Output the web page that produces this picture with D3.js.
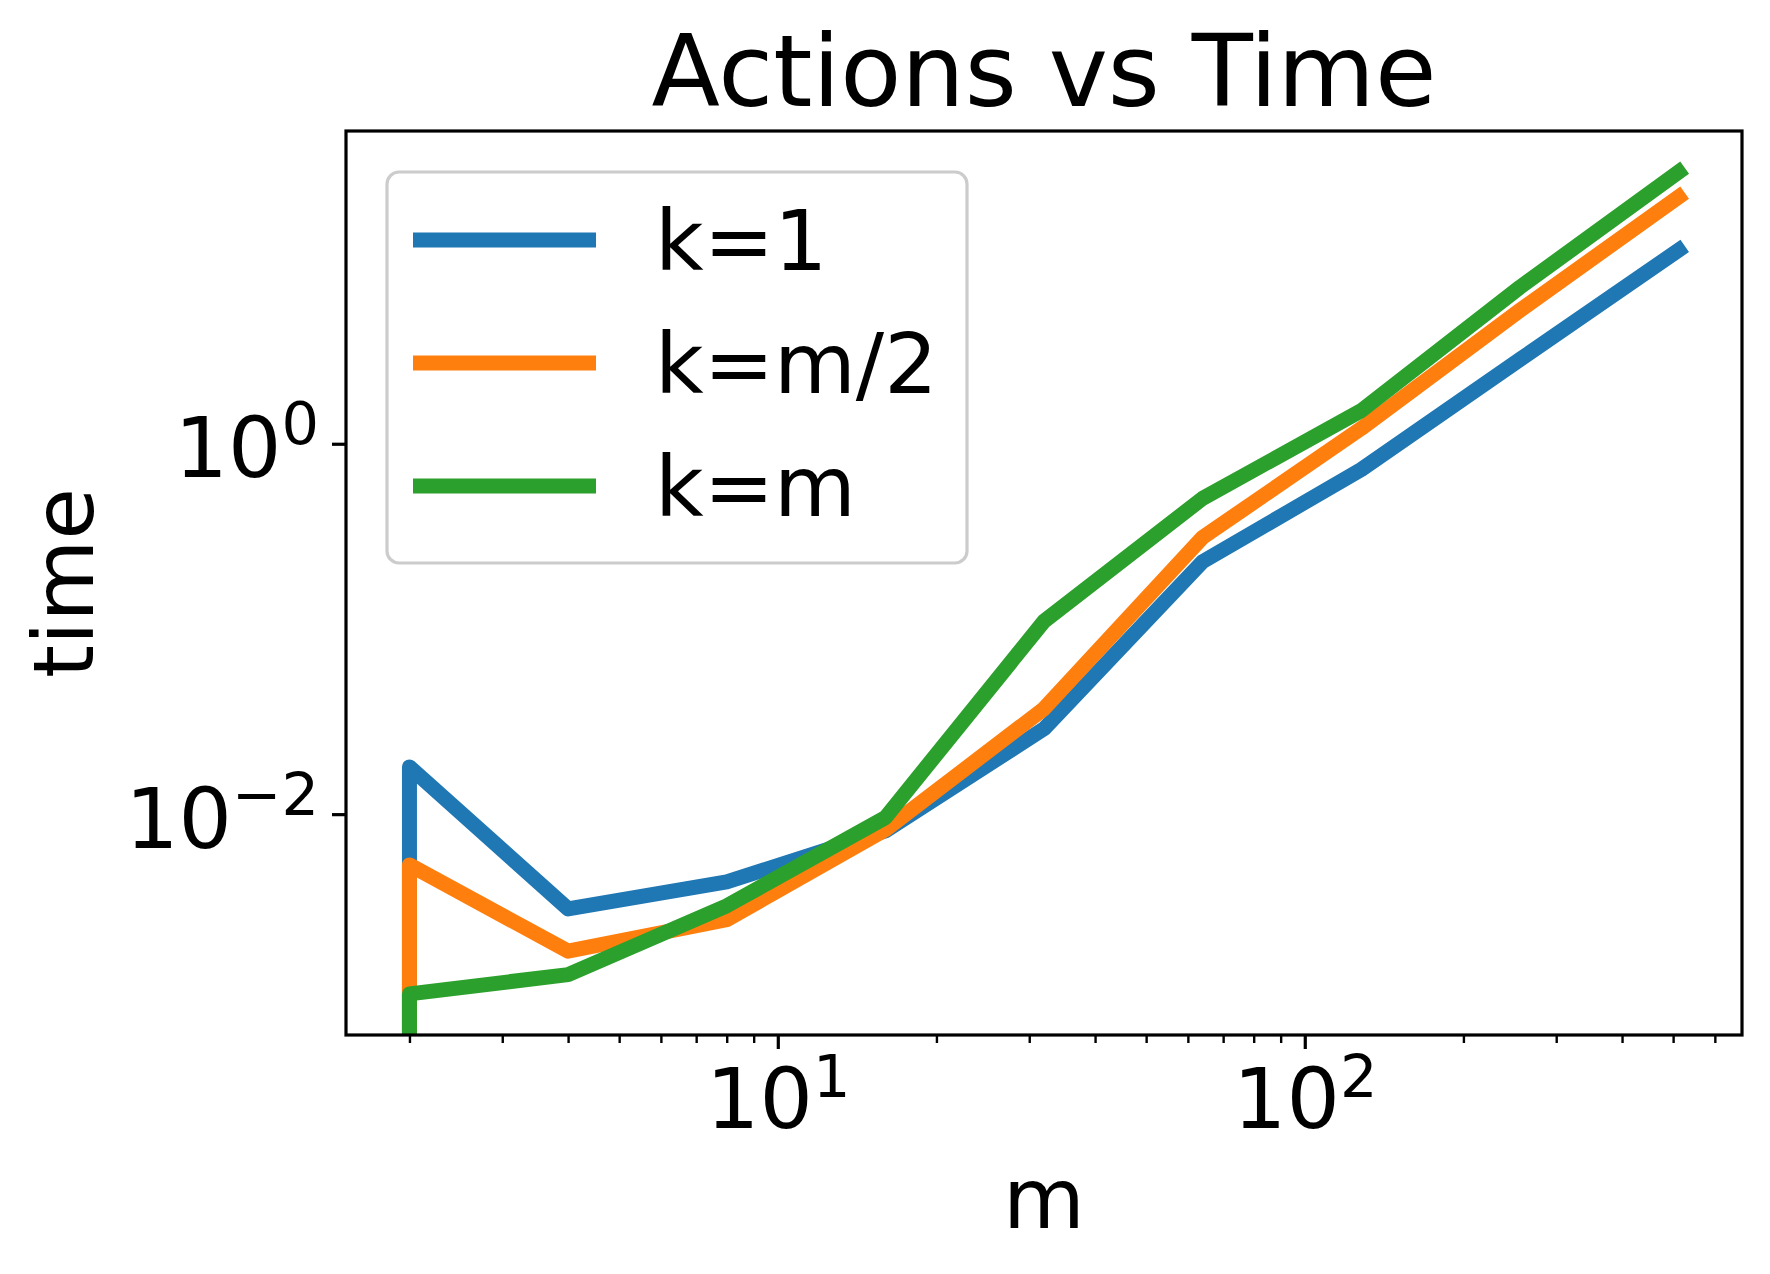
<!DOCTYPE html>
<html>
<head>
<meta charset="utf-8">
<script src="https://cdn.jsdelivr.net/npm/d3@7"></script>
<style>
    html, body { margin: 0; padding: 0; background: #ffffff; }
    svg { display: block; }
</style>
</head>
<body>
<script>
// data (first point of each run is a zero time, clipped below the axes)
const mValues = [2, 2, 4, 8, 16, 32, 64, 128, 256, 512];
const timeK1 = [0, 0.0180, 0.00308, 0.00431, 0.00812, 0.0289, 0.231, 0.726, 2.85, 11.1];
const timeKHalf = [0, 0.00532, 0.00182, 0.00269, 0.00824, 0.0371, 0.312, 1.21, 5.25, 21.5];
const timeKm = [0, 0.00107, 0.00136, 0.0032, 0.00958, 0.110, 0.507, 1.51, 7.0, 29.3];

const seriesNames = ['k=1', 'k=m/2', 'k=m'];
const seriesColors = ['#1f77b4', '#ff7f0e', '#2ca02c'];
const xMajorTicks = [10, 100];
const xMinorTicks = [2, 3, 4, 5, 6, 7, 8, 9, 20, 30, 40, 50, 60, 70, 80, 90, 200, 300, 400, 500, 600];
const yMajorTicks = [0.01, 1];

const width = 1770;
const height = 1274;
const plot = { left: 346, top: 131, right: 1742, bottom: 1035 };
const font = 'DejaVu Sans, sans-serif';
const labelSize = 84;
const supSize = 59;
const lineWidth = 15;

const series = [timeK1, timeKHalf, timeKm].map((times, i) => ({
    name: seriesNames[i],
    color: seriesColors[i],
    points: mValues.map((m, j) => ({ m: m, t: times[j] }))
}));

// matplotlib style autoscale: 5% margins in log space
function logDomain(values) {
    const pos = values.filter(v => v > 0);
    const lo = Math.log10(d3.min(pos));
    const hi = Math.log10(d3.max(pos));
    const pad = (hi - lo) * 0.05;
    return [Math.pow(10, lo - pad), Math.pow(10, hi + pad)];
}

const x = d3.scaleLog()
    .domain(logDomain(mValues))
    .range([plot.left, plot.right]);

const y = d3.scaleLog()
    .domain(logDomain([].concat(timeK1, timeKHalf, timeKm)))
    .range([plot.bottom, plot.top]);

const svg = d3.select('body')
    .append('svg')
    .attr('width', width)
    .attr('height', height)
    .attr('font-family', font);

svg.append('rect')
    .attr('width', width)
    .attr('height', height)
    .attr('fill', '#ffffff');

svg.append('clipPath')
    .attr('id', 'plot-clip')
    .append('rect')
    .attr('x', plot.left)
    .attr('y', plot.top)
    .attr('width', plot.right - plot.left)
    .attr('height', plot.bottom - plot.top);

// lines; non-positive values drop off the bottom like a clipped log axis
const floorValue = y.domain()[0] / 1000;
const line = d3.line()
    .x(d => x(d.m))
    .y(d => y(Math.max(d.t, floorValue)));

svg.append('g')
    .attr('clip-path', 'url(#plot-clip)')
    .selectAll('path')
    .data(series)
    .enter()
    .append('path')
    .attr('d', d => line(d.points))
    .attr('fill', 'none')
    .attr('stroke', d => d.color)
    .attr('stroke-width', lineWidth)
    .attr('stroke-linejoin', 'round')
    .attr('stroke-linecap', 'square');

function superscriptLabel(sel, raise) {
    sel.each(function (d) {
        const t = d3.select(this);
        const exp = Math.round(Math.log10(d));
        t.text(null);
        t.append('tspan').text('10');
        t.append('tspan')
            .attr('dy', -raise)
            .attr('font-size', supSize)
            .text(exp < 0 ? '\u2212' + (-exp) : String(exp));
    });
}

// x axis
const gxMinor = svg.append('g')
    .attr('transform', `translate(0,${plot.bottom})`)
    .call(d3.axisBottom(x).tickValues(xMinorTicks).tickSize(8).tickSizeOuter(0).tickFormat(''));
gxMinor.select('.domain').remove();
gxMinor.selectAll('.tick line').attr('stroke', '#000').attr('stroke-width', 2.4);

const gx = svg.append('g')
    .attr('transform', `translate(0,${plot.bottom})`)
    .call(d3.axisBottom(x).tickValues(xMajorTicks).tickSize(14).tickSizeOuter(0));
gx.select('.domain').remove();
gx.attr('font-family', font).attr('font-size', labelSize);
gx.selectAll('.tick line').attr('stroke', '#000').attr('stroke-width', 3.2);
gx.selectAll('.tick text')
    .attr('fill', '#000')
    .attr('y', 93)
    .attr('dy', null)
    .call(superscriptLabel, 31);

// y axis
const gy = svg.append('g')
    .attr('transform', `translate(${plot.left},0)`)
    .call(d3.axisLeft(y).tickValues(yMajorTicks).tickSize(14).tickSizeOuter(0));
gy.select('.domain').remove();
gy.attr('font-family', font).attr('font-size', labelSize);
gy.selectAll('.tick line').attr('stroke', '#000').attr('stroke-width', 3.2);
gy.selectAll('.tick text')
    .attr('fill', '#000')
    .attr('x', -27)
    .attr('dy', 33)
    .call(superscriptLabel, 33);

// spines
svg.append('rect')
    .attr('x', plot.left)
    .attr('y', plot.top)
    .attr('width', plot.right - plot.left)
    .attr('height', plot.bottom - plot.top)
    .attr('fill', 'none')
    .attr('stroke', '#000')
    .attr('stroke-width', 3.2);

// title and axis labels
const midX = (plot.left + plot.right) / 2;
const midY = (plot.top + plot.bottom) / 2;

svg.append('text')
    .attr('x', midX)
    .attr('y', 106)
    .attr('text-anchor', 'middle')
    .attr('font-size', 100)
    .text('Actions vs Time');

svg.append('text')
    .attr('x', midX)
    .attr('y', 1228)
    .attr('text-anchor', 'middle')
    .attr('font-size', labelSize)
    .text('m');

svg.append('text')
    .attr('transform', `translate(93,${midY}) rotate(-90)`)
    .attr('text-anchor', 'middle')
    .attr('font-size', labelSize)
    .text('time');

// legend
const legend = svg.append('g');
legend.append('rect')
    .attr('x', 387)
    .attr('y', 172)
    .attr('width', 580)
    .attr('height', 391)
    .attr('rx', 12)
    .attr('fill', '#ffffff')
    .attr('fill-opacity', 0.8)
    .attr('stroke', '#cccccc')
    .attr('stroke-width', 3.2);

const rowGap = 123;
series.forEach((s, i) => {
    const cy = 240 + i * rowGap;
    legend.append('line')
        .attr('x1', 413)
        .attr('x2', 596)
        .attr('y1', cy)
        .attr('y2', cy)
        .attr('stroke', s.color)
        .attr('stroke-width', lineWidth);
    legend.append('text')
        .attr('x', 655)
        .attr('y', cy + 30)
        .attr('font-size', labelSize)
        .text(s.name);
});
</script>
</body>
</html>
